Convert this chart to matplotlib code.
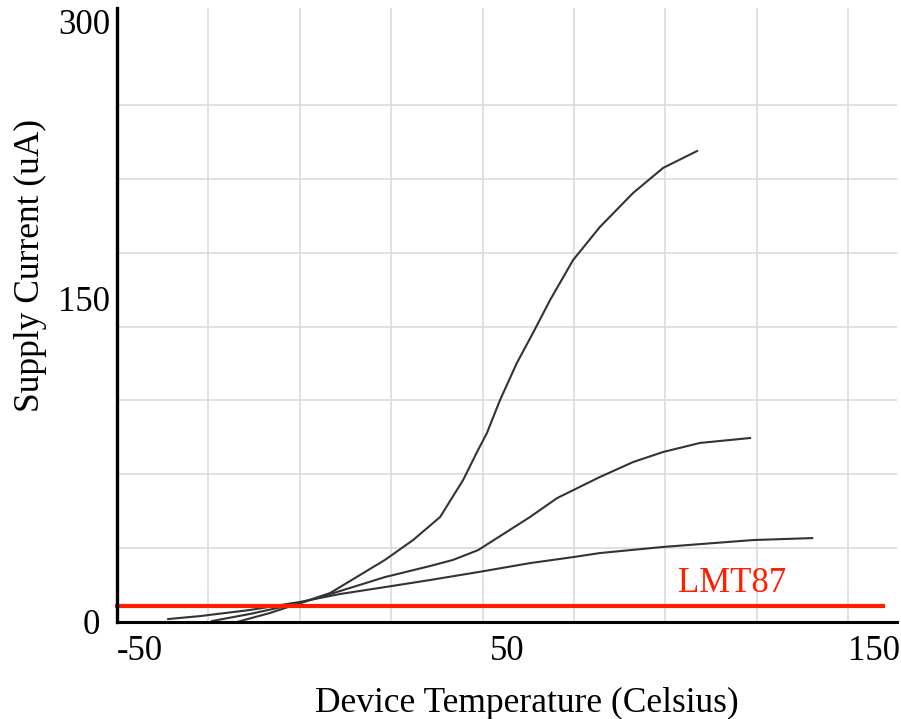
import numpy as np
import matplotlib
matplotlib.use('Agg')
import matplotlib.pyplot as plt
from matplotlib.transforms import ScaledTranslation

# supply current vs temperature
temp_top = [-21.8, -17.2, -8.1, 0.1, 8.3, 23.3, 31.0, 38.4, 44.7, 48.5, 51.2,
            54.8, 59.4, 63.8, 68.5, 74.8, 82.1, 91.2, 99.4, 108.7]
curr_top = [0.0, 0.0, 4.6, 9.6, 14.7, 31.5, 41.6, 53.3, 72.1, 86.3, 95.9,
            112.7, 131.5, 146.7, 163.5, 183.8, 200.5, 217.8, 230.5, 239.1]

temp_mid = [-24.0, -13.6, 0.1, 11.0, 23.3, 35.6, 41.9, 48.8, 63.0, 70.4,
            82.1, 91.2, 99.4, 109.5, 123.2]
curr_mid = [0.5, 4.1, 9.6, 15.7, 22.8, 28.4, 31.5, 36.5, 53.3, 62.9,
            73.6, 81.2, 86.3, 90.9, 93.4]

temp_low = [-36.0, -27.3, -13.6, 0.1, 11.0, 23.6, 35.6, 49.0, 63.0, 75.0,
            82.1, 99.4, 124.0, 140.2]
curr_low = [1.5, 3.0, 6.1, 10.2, 14.2, 17.8, 21.3, 25.4, 29.9, 33.0,
            35.0, 38.1, 41.6, 42.6]

lmt87_temp = [-50, 159.5]
lmt87_curr = [8, 8]

x_labels = ['-50', '50', '150']
y_labels = ['0', '150', '300']

plt.rcParams['font.family'] = ['Liberation Serif', 'DejaVu Serif']

fig = plt.figure(figsize=(9.01, 7.19), dpi=100)
ax = fig.add_axes([117 / 901, 1 - 622 / 719, 780 / 901, 614 / 719])

ax.set_xlim(-50, 163.4)
ax.set_ylim(0, 311.7)

# light grid
for gx in np.arange(-25, 151, 25):
    ax.axvline(gx, color='#d9d9d9', lw=1.1, zorder=0)
for gy in np.arange(37.5, 263, 37.5):
    ax.axhline(gy, color='#d9d9d9', lw=1.1, zorder=0)

ax.set_xticks([-50, 50, 150])
ax.set_xticklabels(x_labels, ha='left')
ax.set_yticks([0, 150, 300])
ax.set_yticklabels(y_labels)
ax.tick_params(which='both', length=0, labelsize=25)
ax.tick_params(axis='x', pad=9)
ax.tick_params(axis='y', pad=5)

# nudge labels to where they sit in the original
shifts_x = [(0, 0), (7, 0), (0, 0)]
for lab, (dx, dy) in zip(ax.get_xticklabels(), shifts_x):
    lab.set_transform(lab.get_transform() + ScaledTranslation(dx / 100, dy / 100, fig.dpi_scale_trans))
shifts_y = [(-10, 0), (0, 28), (0, 10)]
for lab, (dx, dy) in zip(ax.get_yticklabels(), shifts_y):
    lab.set_transform(lab.get_transform() + ScaledTranslation(dx / 100, dy / 100, fig.dpi_scale_trans))

for s in ['top', 'right']:
    ax.spines[s].set_visible(False)
ax.spines['left'].set_linewidth(2.4)
ax.spines['bottom'].set_linewidth(2.2)

ax.plot(temp_top, curr_top, color='#333333', lw=1.5)
ax.plot(temp_mid, curr_mid, color='#333333', lw=1.5)
ax.plot(temp_low, curr_low, color='#333333', lw=1.5)

ax.plot(lmt87_temp, lmt87_curr, color='#ff1f00', lw=3, clip_on=False)
ax.text(103.5, 15.2, 'LMT87', color='#ff1f00', fontsize=25, ha='left', va='baseline')

fig.text(527 / 901, 1 - 712 / 719, 'Device Temperature (Celsius)', fontsize=25.5,
         ha='center', va='baseline')
fig.text(30 / 901, 1 - 265 / 719, 'Supply Current (uA)', fontsize=25.5,
         ha='center', va='center', rotation=90)

fig.savefig('out.png', dpi=100)
